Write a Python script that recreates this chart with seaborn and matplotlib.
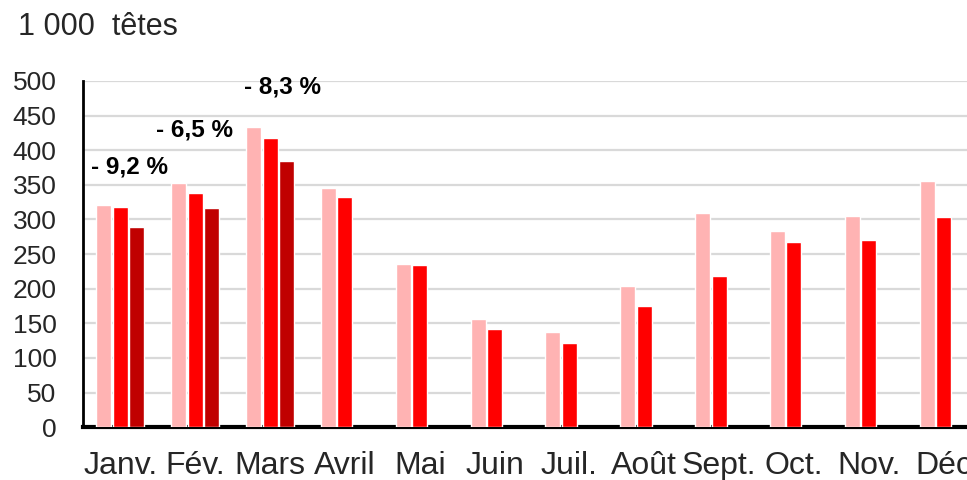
import seaborn as sns
import matplotlib.pyplot as plt
import pandas as pd

mois = ['Janv.', 'Fév.', 'Mars', 'Avril', 'Mai', 'Juin', 'Juil.', 'Août',
        'Sept.', 'Oct.', 'Nov.', 'Déc']
serie_1 = [321, 352, 433, 345, 235, 156, 137, 204, 309, 283, 305, 356]
serie_2 = [318, 338, 418, 333, 234, 142, 122, 175, 219, 267, 270, 303]
serie_3 = [289, 316, 384]  # seulement janv. - mars
variations = ['- 9,2 %', '- 6,5 %', '- 8,3 %']

rows = []
for m, v in zip(mois, serie_1):
    rows.append({'mois': m, 'serie': 's1', 'tetes': v})
for m, v in zip(mois, serie_2):
    rows.append({'mois': m, 'serie': 's2', 'tetes': v})
for m, v in zip(mois, serie_3):
    rows.append({'mois': m, 'serie': 's3', 'tetes': v})
df = pd.DataFrame(rows)

sns.set_style('white')
plt.rcParams['font.family'] = ['Liberation Sans', 'DejaVu Sans']

fig = plt.figure(figsize=(9.67, 4.8), dpi=100)
ax = fig.add_axes([0.0858, 0.110, 0.9287, 0.7215])

couleurs = {'s1': '#ffb3b3', 's2': '#ff0000', 's3': '#c00000'}
sns.barplot(data=df, x='mois', y='tetes', hue='serie', order=mois,
            hue_order=['s1', 's2', 's3'], palette=couleurs, width=0.66,
            gap=0.09, saturation=1, legend=False, ax=ax, zorder=3)

ax.set_ylim(0, 500)
ax.set_xlim(-0.5, 11.5)
ax.set_yticks(range(0, 501, 50))
ax.yaxis.grid(True, color='#d9d9d9', linewidth=1.6, zorder=0)
ax.set_axisbelow(True)
ax.set_xlabel('')
ax.set_ylabel('')
ax.tick_params(axis='y', labelsize=19, length=0, pad=19)
ax.tick_params(axis='x', labelsize=23, length=0, pad=17)

for s in ['top', 'right']:
    ax.spines[s].set_visible(False)
ax.spines['left'].set_color('black')
ax.spines['left'].set_linewidth(2)
ax.spines['bottom'].set_color('black')
ax.spines['bottom'].set_linewidth(3)

# positions des étiquettes de variation
pos_var = [(0.12, 375), (0.99, 429), (2.17, 491)]
for txt, (x, y) in zip(variations, pos_var):
    ax.text(x, y, txt, ha='center', va='center', fontsize=17.5,
            fontweight='bold', color='black')

fig.text(0.0186, 1 - 27 / 480, '1 000  têtes', ha='left', va='center',
         fontsize=22)

plt.savefig('out.png', dpi=100)
